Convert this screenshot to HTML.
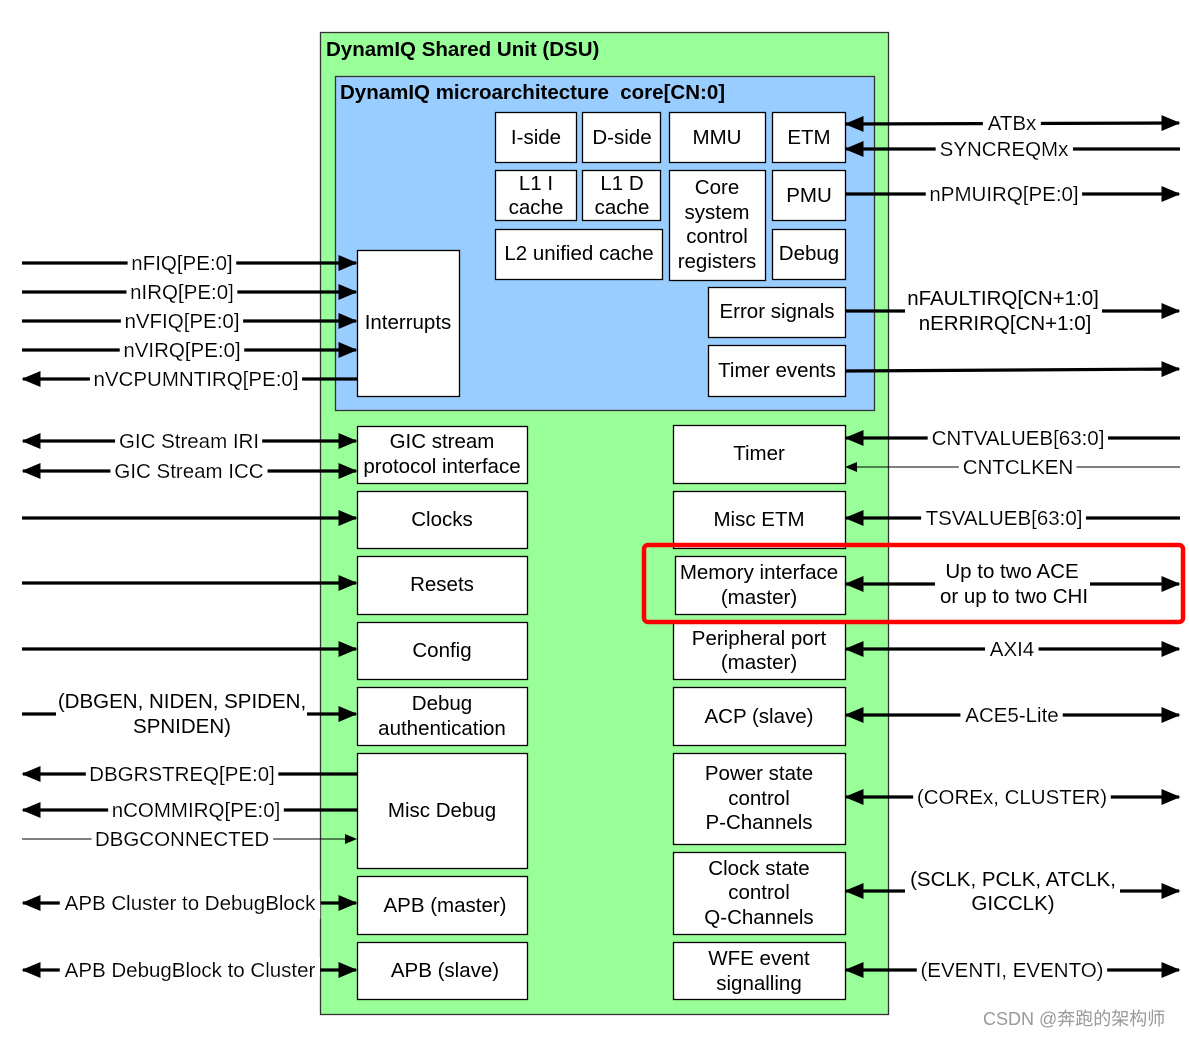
<!DOCTYPE html>
<html><head><meta charset="utf-8"><style>
html,body{margin:0;padding:0;background:#fff;}
svg{display:block;font-family:"Liberation Sans","Noto Sans CJK SC",sans-serif;}
.t{font-size:20.5px;fill:#000;}
.l{font-size:20.5px;fill:#000;filter:url(#bg);}
.b{fill:#fff;stroke:#000;stroke-width:1.3;}
.w{stroke:#000;stroke-width:3.2;fill:none;}
.n{stroke:#000;stroke-width:1;fill:none;}
</style></head><body>
<svg width="1189" height="1037" viewBox="0 0 1189 1037">
<defs>
<filter id="bg" x="-10%" y="-40%" width="120%" height="180%"><feMorphology in="SourceAlpha" operator="dilate" radius="5 9" result="d"/><feFlood flood-color="#fff"/><feComposite in2="d" operator="in"/><feMerge><feMergeNode/><feMergeNode in="SourceGraphic"/></feMerge></filter>
<marker id="a" markerWidth="6" markerHeight="5" refX="5.5" refY="2.5" orient="auto-start-reverse" markerUnits="strokeWidth"><path d="M0,0 L6,2.5 L0,5 z" fill="#000"/></marker>
<marker id="s" markerWidth="12" markerHeight="10" refX="11" refY="5" orient="auto-start-reverse" markerUnits="userSpaceOnUse"><path d="M0,0 L12,5 L0,10 z" fill="#000"/></marker>
</defs>
<rect x="320.5" y="32.5" width="568" height="982" fill="#99ff99" stroke="#333" stroke-width="1.3"/>
<text x="326" y="56" font-size="20.5" font-weight="bold">DynamIQ Shared Unit (DSU)</text>
<rect x="335.5" y="76.5" width="539" height="334" fill="#99ccff" stroke="#333" stroke-width="1.3"/>
<text x="340" y="99" font-size="20.5" font-weight="bold" xml:space="preserve">DynamIQ microarchitecture  core[CN:0]</text>
<g text-anchor="middle" class="t">
<rect class="b" x="495.5" y="112.5" width="81" height="50"/><text x="536" y="144" class="t">I-side</text>
<rect class="b" x="582.5" y="112.5" width="78" height="50"/><text x="622" y="144" class="t">D-side</text>
<rect class="b" x="669.5" y="112.5" width="96" height="50"/><text x="717" y="144" class="t">MMU</text>
<rect class="b" x="772.5" y="112.5" width="73" height="50"/><text x="809" y="144" class="t">ETM</text>
<rect class="b" x="495.5" y="170.5" width="81" height="50"/><text x="536" y="190" class="t">L1 I</text><text x="536" y="214" class="t">cache</text>
<rect class="b" x="582.5" y="170.5" width="78" height="50"/><text x="622" y="190" class="t">L1 D</text><text x="622" y="214" class="t">cache</text>
<rect class="b" x="669.5" y="170.5" width="96" height="110"/><text x="717" y="194" class="t">Core</text><text x="717" y="219" class="t">system</text><text x="717" y="243" class="t">control</text><text x="717" y="268" class="t">registers</text>
<rect class="b" x="772.5" y="170.5" width="73" height="50"/><text x="809" y="202" class="t">PMU</text>
<rect class="b" x="495.5" y="229.5" width="167" height="50"/><text x="579" y="260" class="t">L2 unified cache</text>
<rect class="b" x="772.5" y="229.5" width="73" height="50"/><text x="809" y="260" class="t">Debug</text>
<rect class="b" x="708.5" y="287.5" width="137" height="50"/><text x="777" y="318" class="t">Error signals</text>
<rect class="b" x="708.5" y="345.5" width="137" height="51"/><text x="777" y="377" class="t">Timer events</text>
<rect class="b" x="357.5" y="250.5" width="102" height="146"/><text x="408" y="329" class="t">Interrupts</text>

<rect class="b" x="357.5" y="426.5" width="170" height="57"/><text x="442" y="448" class="t">GIC stream</text><text x="442" y="473" class="t">protocol interface</text>
<rect class="b" x="357.5" y="491.5" width="170" height="57"/><text x="442" y="526" class="t">Clocks</text>
<rect class="b" x="357.5" y="556.5" width="170" height="58"/><text x="442" y="591" class="t">Resets</text>
<rect class="b" x="357.5" y="622.5" width="170" height="57"/><text x="442" y="657" class="t">Config</text>
<rect class="b" x="357.5" y="687.5" width="170" height="58"/><text x="442" y="710" class="t">Debug</text><text x="442" y="735" class="t">authentication</text>
<rect class="b" x="357.5" y="753.5" width="170" height="115"/><text x="442" y="817" class="t">Misc Debug</text>
<rect class="b" x="357.5" y="876.5" width="170" height="58"/><text x="445" y="912" class="t">APB (master)</text>
<rect class="b" x="357.5" y="942.5" width="170" height="57"/><text x="445" y="977" class="t">APB (slave)</text>

<rect class="b" x="673.5" y="425.5" width="172" height="58"/><text x="759" y="460" class="t">Timer</text>
<rect class="b" x="673.5" y="491.5" width="172" height="57"/><text x="759" y="526" class="t">Misc ETM</text>
<rect class="b" x="675.5" y="556.5" width="170" height="58"/><text x="759" y="579" class="t">Memory interface</text><text x="759" y="604" class="t">(master)</text>
<rect class="b" x="673.5" y="622.5" width="172" height="57"/><text x="759" y="645" class="t">Peripheral port</text><text x="759" y="669" class="t">(master)</text>
<rect class="b" x="673.5" y="687.5" width="172" height="58"/><text x="759" y="723" class="t">ACP (slave)</text>
<rect class="b" x="673.5" y="753.5" width="172" height="91"/><text x="759" y="780" class="t">Power state</text><text x="759" y="805" class="t">control</text><text x="759" y="829" class="t">P-Channels</text>
<rect class="b" x="673.5" y="852.5" width="172" height="82"/><text x="759" y="875" class="t">Clock state</text><text x="759" y="899" class="t">control</text><text x="759" y="924" class="t">Q-Channels</text>
<rect class="b" x="673.5" y="942.5" width="172" height="57"/><text x="759" y="965" class="t">WFE event</text><text x="759" y="990" class="t">signalling</text>
</g>

<g class="w">
<line x1="22" y1="263" x2="356" y2="263" marker-end="url(#a)"/>
<line x1="22" y1="292" x2="356" y2="292" marker-end="url(#a)"/>
<line x1="22" y1="321" x2="356" y2="321" marker-end="url(#a)"/>
<line x1="22" y1="350" x2="356" y2="350" marker-end="url(#a)"/>
<line x1="23" y1="379" x2="357" y2="379" marker-start="url(#a)"/>
<line x1="23" y1="441" x2="356" y2="441" marker-start="url(#a)" marker-end="url(#a)"/>
<line x1="23" y1="471" x2="356" y2="471" marker-start="url(#a)" marker-end="url(#a)"/>
<line x1="22" y1="518" x2="356" y2="518" marker-end="url(#a)"/>
<line x1="22" y1="583" x2="356" y2="583" marker-end="url(#a)"/>
<line x1="22" y1="649" x2="356" y2="649" marker-end="url(#a)"/>
<line x1="22" y1="714" x2="56" y2="714"/>
<line x1="307" y1="714" x2="356" y2="714" marker-end="url(#a)"/>
<line x1="23" y1="774" x2="357" y2="774" marker-start="url(#a)"/>
<line x1="23" y1="810" x2="357" y2="810" marker-start="url(#a)"/>
<line x1="23" y1="903" x2="356" y2="903" marker-start="url(#a)" marker-end="url(#a)"/>
<line x1="23" y1="970" x2="356" y2="970" marker-start="url(#a)" marker-end="url(#a)"/>
</g>
<line class="n" x1="22" y1="839" x2="356" y2="839" marker-end="url(#s)"/>
<g class="w">
<line x1="846" y1="124" x2="1179" y2="123" marker-start="url(#a)" marker-end="url(#a)"/>
<line x1="846" y1="149" x2="1180" y2="149" marker-start="url(#a)"/>
<line x1="845" y1="194" x2="1179" y2="194" marker-end="url(#a)"/>
<line x1="845" y1="311" x2="905" y2="311"/>
<line x1="1102" y1="311" x2="1179" y2="311" marker-end="url(#a)"/>
<line x1="845" y1="371" x2="1179" y2="369" marker-end="url(#a)"/>
<line x1="846" y1="438" x2="1180" y2="438" marker-start="url(#a)"/>
<line x1="846" y1="518" x2="1180" y2="518" marker-start="url(#a)"/>
<line x1="846" y1="584" x2="935" y2="584" marker-start="url(#a)"/>
<line x1="1090" y1="584" x2="1179" y2="584" marker-end="url(#a)"/>
<line x1="846" y1="649" x2="1179" y2="649" marker-start="url(#a)" marker-end="url(#a)"/>
<line x1="846" y1="715" x2="1179" y2="715" marker-start="url(#a)" marker-end="url(#a)"/>
<line x1="846" y1="797" x2="1179" y2="797" marker-start="url(#a)" marker-end="url(#a)"/>
<line x1="846" y1="891" x2="905" y2="891" marker-start="url(#a)"/>
<line x1="1120" y1="891" x2="1179" y2="891" marker-end="url(#a)"/>
<line x1="846" y1="970" x2="1179" y2="970" marker-start="url(#a)" marker-end="url(#a)"/>
</g>
<line class="n" x1="846" y1="467" x2="1180" y2="467" marker-start="url(#s)"/>

<g text-anchor="middle">
<text class="l" x="182" y="270">nFIQ[PE:0]</text>
<text class="l" x="182" y="299">nIRQ[PE:0]</text>
<text class="l" x="182" y="328">nVFIQ[PE:0]</text>
<text class="l" x="182" y="357">nVIRQ[PE:0]</text>
<text class="l" x="196" y="386">nVCPUMNTIRQ[PE:0]</text>
<text class="l" x="189" y="448">GIC Stream IRI</text>
<text class="l" x="189" y="478">GIC Stream ICC</text>
<text class="t" x="182" y="708">(DBGEN, NIDEN, SPIDEN,</text>
<text class="t" x="182" y="733">SPNIDEN)</text>
<text class="l" x="182" y="781">DBGRSTREQ[PE:0]</text>
<text class="l" x="196" y="817">nCOMMIRQ[PE:0]</text>
<text class="l" x="182" y="846">DBGCONNECTED</text>
<text class="l" x="190" y="910">APB Cluster to DebugBlock</text>
<text class="l" x="190" y="977">APB DebugBlock to Cluster</text>

<text class="l" x="1012" y="130">ATBx</text>
<text class="l" x="1004" y="156">SYNCREQMx</text>
<text class="l" x="1004" y="201">nPMUIRQ[PE:0]</text>
<text class="t" x="1003" y="305">nFAULTIRQ[CN+1:0]</text>
<text class="t" x="1005" y="330">nERRIRQ[CN+1:0]</text>
<text class="l" x="1018" y="445">CNTVALUEB[63:0]</text>
<text class="l" x="1018" y="474">CNTCLKEN</text>
<text class="l" x="1004" y="525">TSVALUEB[63:0]</text>
<text class="t" x="1012" y="578">Up to two ACE</text>
<text class="t" x="1014" y="603">or up to two CHI</text>
<text class="l" x="1012" y="656">AXI4</text>
<text class="l" x="1012" y="722">ACE5-Lite</text>
<text class="l" x="1012" y="804">(COREx, CLUSTER)</text>
<text class="t" x="1013" y="886">(SCLK, PCLK, ATCLK,</text>
<text class="t" x="1013" y="910">GICCLK)</text>
<text class="l" x="1012" y="977">(EVENTI, EVENTO)</text>
</g>
<rect x="644" y="545" width="539" height="77" rx="4" fill="none" stroke="#ff0000" stroke-width="4.5"/>
<text x="983" y="1025" font-size="18" fill="#999">CSDN @奔跑的架构师</text>
</svg>
</body></html>
